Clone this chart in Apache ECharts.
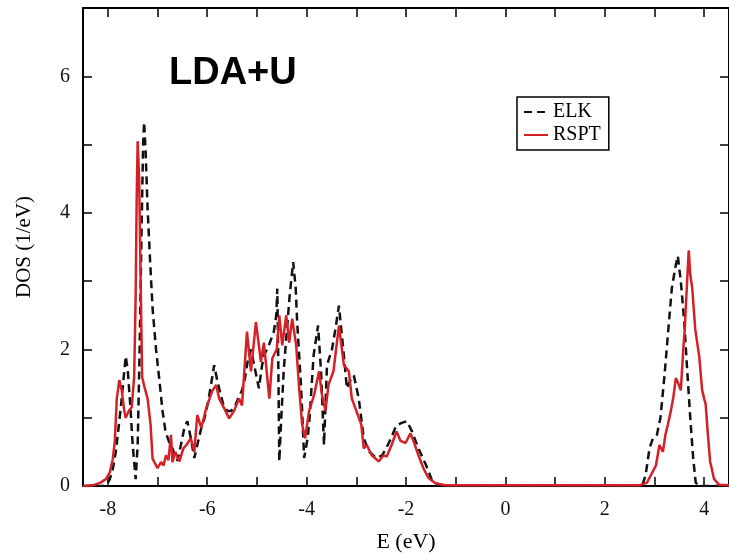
<!DOCTYPE html>
<html>
<head>
<meta charset="utf-8">
<script src="https://cdn.jsdelivr.net/npm/echarts@6/dist/echarts.min.js"></script>
<style>
  html, body { margin: 0; padding: 0; background: #fff; }
  #chart { width: 729px; height: 558px; }
</style>
</head>
<body>
<div id="chart"></div>
<script>
// ELK (dashed black) : energy (eV) and DOS (1/eV)
var elkE = [-8.5, -8.1, -8.0, -7.96, -7.9, -7.84, -7.74, -7.68, -7.64, -7.6, -7.55, -7.5, -7.44, -7.4, -7.36, -7.32, -7.29, -7.27, -7.24, -7.2,
  -7.15, -7.1, -7.03, -6.96, -6.9, -6.84, -6.77, -6.7, -6.65, -6.6, -6.53, -6.46, -6.4, -6.33, -6.26, -6.2, -6.12, -6.05, -5.98, -5.92,
  -5.86, -5.8, -5.76, -5.68, -5.6, -5.52, -5.45, -5.38, -5.3, -5.24, -5.18, -5.12, -5.05, -4.96, -4.9, -4.86, -4.76, -4.66, -4.61, -4.59,
  -4.57, -4.55, -4.51, -4.46, -4.41, -4.34, -4.27, -4.22, -4.19, -4.11, -4.05, -3.98, -3.94, -3.86, -3.77, -3.71, -3.65, -3.59, -3.49, -3.42,
  -3.35, -3.25, -3.19, -3.12, -3.05, -2.95, -2.85, -2.75, -2.6, -2.48, -2.4, -2.3, -2.2, -2.1, -1.98, -1.88, -1.75, -1.6, -1.48, -1.35,
  -1.2, 2.75, 2.82, 2.9, 2.97, 3.05, 3.12, 3.2, 3.28, 3.35, 3.42, 3.47, 3.53, 3.6, 3.65, 3.72, 3.78, 3.83, 3.9, 4.5];
var elkDos = [0, 0, 0.05, 0.1, 0.25, 0.5, 1.14, 1.6, 1.9, 1.7, 1.2, 0.6, 0.1, 0.6, 2.0, 3.8, 5.0, 5.33, 4.9, 4.06,
  3.3, 2.6, 2.0, 1.53, 1.1, 0.8, 0.65, 0.55, 0.45, 0.37, 0.6, 0.85, 0.95, 0.7, 0.41, 0.6, 0.85, 1.0, 1.24, 1.5,
  1.77, 1.55, 1.43, 1.2, 1.1, 1.1, 1.15, 1.28, 1.4, 1.58, 1.85, 2.0, 1.75, 1.43, 1.75, 1.91, 2.06, 2.26, 2.5, 2.89,
  1.8, 0.36, 1.0, 1.7, 2.16, 2.8, 3.28, 2.9, 2.4, 1.43, 0.41, 0.7, 1.0, 1.91, 2.35, 1.68, 0.6, 1.77, 2.0, 2.3,
  2.64, 1.91, 1.43, 1.55, 1.62, 1.28, 0.7, 0.51, 0.41, 0.45, 0.55, 0.7, 0.88, 0.92, 0.95, 0.8, 0.55, 0.31, 0.09, 0.02,
  0, 0, 0.15, 0.55, 0.7, 0.75, 1.0, 1.6, 2.3, 2.9, 3.2, 3.37, 3.0, 2.4, 1.8, 1.0, 0.4, 0.05, 0, 0];

// RSPT (solid red)
var rsptE = [-8.5, -8.3, -8.15, -8.04, -7.96, -7.9, -7.86, -7.82, -7.77, -7.72, -7.67, -7.64, -7.58, -7.52, -7.47, -7.44, -7.42, -7.4, -7.37, -7.34,
  -7.31, -7.27, -7.2, -7.14, -7.1, -7.0, -6.93, -6.88, -6.83, -6.78, -6.73, -6.7, -6.64, -6.6, -6.56, -6.48, -6.42, -6.33, -6.26, -6.2,
  -6.12, -6.02, -5.9, -5.82, -5.76, -5.66, -5.56, -5.46, -5.36, -5.3, -5.2, -5.12, -5.02, -4.92, -4.86, -4.75, -4.69, -4.6, -4.55, -4.49,
  -4.41, -4.35, -4.29, -4.21, -4.15, -4.09, -4.03, -3.95, -3.85, -3.75, -3.69, -3.62, -3.56, -3.46, -3.35, -3.25, -3.15, -3.09, -3.0, -2.9,
  -2.85, -2.79, -2.69, -2.55, -2.45, -2.39, -2.29, -2.19, -2.11, -2.01, -1.91, -1.85, -1.75, -1.65, -1.55, -1.41, -1.2, 0, 2.7, 2.85,
  2.95, 3.03, 3.1, 3.17, 3.22, 3.27, 3.33, 3.38, 3.43, 3.48, 3.53, 3.58, 3.61, 3.65, 3.69, 3.72, 3.76, 3.8, 3.82, 3.86,
  3.9, 3.96, 4.0, 4.03, 4.07, 4.12, 4.2, 4.3, 4.5];
var rsptDos = [0, 0.01, 0.05, 0.1, 0.2, 0.4, 0.65, 1.28, 1.55, 1.4, 1.1, 1.0, 1.1, 1.15, 1.6, 2.8, 4.2, 5.05, 4.5, 3.0,
  1.6, 1.47, 1.28, 0.9, 0.4, 0.26, 0.35, 0.3, 0.45, 0.38, 0.75, 0.35, 0.5, 0.42, 0.36, 0.55, 0.6, 0.7, 0.5, 1.04,
  0.85, 1.14, 1.39, 1.48, 1.28, 1.14, 0.99, 1.1, 1.28, 1.18, 2.26, 1.68, 2.4, 1.82, 2.1, 1.28, 1.87, 2.0, 2.5, 2.06,
  2.5, 2.1, 2.45, 2.06, 1.43, 0.9, 0.7, 1.1, 1.33, 1.68, 1.33, 1.1, 1.48, 1.68, 2.35, 1.77, 1.68, 1.28, 1.1, 0.9,
  0.55, 0.6, 0.45, 0.36, 0.45, 0.43, 0.6, 0.8, 0.66, 0.63, 0.77, 0.66, 0.45, 0.26, 0.12, 0.04, 0.01, 0.01, 0.01, 0.05,
  0.19, 0.3, 0.6, 0.5, 0.75, 0.9, 1.1, 1.3, 1.58, 1.5, 1.4, 2.0, 2.3, 2.9, 3.45, 3.1, 2.9, 2.5, 2.3, 2.1,
  1.9, 1.4, 1.28, 1.2, 0.8, 0.36, 0.1, 0.02, 0.01];

var xTicks = [-8, -7, -6, -5, -4, -3, -2, -1, 0, 1, 2, 3, 4];
var xLabels = [-8, -6, -4, -2, 0, 2, 4];
var yTicks = [0, 1, 2, 3, 4, 5, 6, 7];
var yLabels = [0, 2, 4, 6];

function pairs(xs, ys) {
  var out = [];
  for (var i = 0; i < xs.length; i++) out.push([xs[i], ys[i]]);
  return out;
}

var serif = 'Liberation Serif';
var chart = echarts.init(document.getElementById('chart'));

var lineAx = { show: true, onZero: false, lineStyle: { color: '#000', width: 2 } };

chart.setOption({
  animation: false,
  title: {
    text: 'LDA+U',
    left: 164, top: 50,
    textStyle: { fontFamily: 'Liberation Sans', fontWeight: 'bold', fontSize: 38, color: '#000' }
  },
  legend: {
    orient: 'vertical',
    left: 517, top: 97,
    padding: [5, 8, 5, 6],
    itemGap: 3,
    itemWidth: 24, itemHeight: 14,
    borderColor: '#000', borderWidth: 1.5, borderRadius: 0,
    itemStyle: { opacity: 0 },
    textStyle: { fontFamily: serif, fontSize: 20, color: '#000' },
    data: ['ELK', 'RSPT']
  },
  grid: { left: 83, right: -2, top: 8, bottom: 70 },
  xAxis: [{
    type: 'value', min: -8.5, max: 4.5,
    name: 'E (eV)', nameLocation: 'middle', nameGap: 45,
    nameTextStyle: { fontFamily: serif, fontSize: 22, color: '#000' },
    axisLine: lineAx,
    axisTick: { inside: true, length: 9, customValues: xTicks, lineStyle: { color: '#000', width: 1.5 } },
    axisLabel: { customValues: xLabels, margin: 14, fontFamily: serif, fontSize: 20, color: '#111' },
    splitLine: { show: false }
  }, {
    type: 'value', min: -8.5, max: 4.5, position: 'top',
    axisLine: lineAx,
    axisTick: { inside: true, length: 9, customValues: xTicks, lineStyle: { color: '#000', width: 1.5 } },
    axisLabel: { show: false },
    splitLine: { show: false }
  }],
  yAxis: [{
    type: 'value', min: 0, max: 7,
    name: 'DOS (1/eV)', nameLocation: 'middle', nameGap: 48,
    nameTextStyle: { fontFamily: serif, fontSize: 21, color: '#000' },
    axisLine: lineAx,
    axisTick: { inside: true, length: 9, customValues: yTicks, lineStyle: { color: '#000', width: 1.5 } },
    axisLabel: { customValues: yLabels, margin: 13, fontFamily: serif, fontSize: 20, color: '#111' },
    splitLine: { show: false }
  }, {
    type: 'value', min: 0, max: 7, position: 'right',
    axisLine: lineAx,
    axisTick: { inside: true, length: 9, customValues: yTicks, lineStyle: { color: '#000', width: 1.5 } },
    axisLabel: { show: false },
    splitLine: { show: false }
  }],
  series: [{
    name: 'ELK', type: 'line', symbol: 'none',
    data: pairs(elkE, elkDos),
    lineStyle: { color: '#111', width: 2.5, type: [8, 5] },
    itemStyle: { color: '#111' },
    z: 3
  }, {
    name: 'RSPT', type: 'line', symbol: 'none',
    data: pairs(rsptE, rsptDos),
    lineStyle: { color: '#d42027', width: 2.5 },
    itemStyle: { color: '#d42027' },
    z: 4
  }]
});
</script>
</body>
</html>
